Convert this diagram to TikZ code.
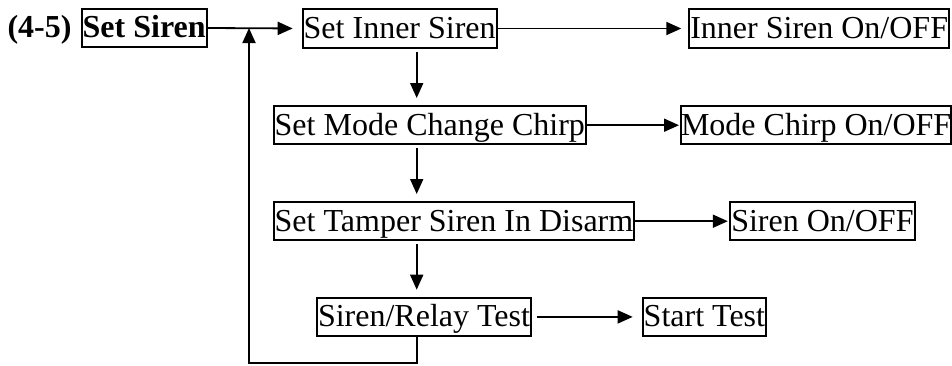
\documentclass[tikz,border=0pt]{standalone}
\usepackage{fontspec}
\setmainfont{Liberation Serif}
\usetikzlibrary{arrows.meta}
\begin{document}
\begin{tikzpicture}[x=1pt,y=-1pt,
  box/.style={draw, line width=2pt, inner xsep=1pt, inner ysep=0pt, text height=29pt, text depth=9.4pt, anchor=north west, font=\fontsize{32}{38}\selectfont},
  arr/.style={line width=1.8pt, -{Triangle[length=15pt,width=13pt]}},
  ln/.style={line width=1.8pt}]
\useasboundingbox (0,0) rectangle (952,365);
\node[box, font=\fontsize{32}{38}\selectfont\bfseries] (siren) at (80.7,7.8) {Set Siren};
\node[font=\fontsize{32}{38}\selectfont\bfseries, anchor=base east, inner sep=0pt] (hdr) at ([xshift=-9pt]siren.base west) {(4-5)};
\node[box] (inner) at (301.7,8.3) {Set Inner Siren};
\node[box] (inneron) at (688.3,8.3) {Inner Siren On/OFF};
\node[box] (mode) at (272.7,105) {Set Mode Change Chirp};
\node[box, inner xsep=0pt] (modeon) at (680,105) {Mode Chirp On/OFF};
\node[box] (tamper) at (272.7,201) {Set Tamper Siren In Disarm};
\node[box] (sirenon) at (729.3,201) {Siren On/OFF};
\node[box] (relay) at (316,296.7) {Siren/Relay Test};
\node[box] (start) at (641.7,296.7) {Start Test};
\coordinate (vx) at (416.7,0);
\coordinate (lx) at (249,0);
\coordinate (bot) at (0,362.7);
% horizontal arrows
\draw[arr, shorten >=9pt] (siren.east) -- (inner.west);
\draw[arr, shorten >=7pt] (inner.east) -- (inneron.west);
\draw[arr, shorten >=1pt] (mode.east) -- (modeon.west);
\draw[arr, shorten >=1.5pt] (tamper.east) -- (sirenon.west);
\draw[arr, shorten <=5pt, shorten >=9pt] (relay.east) -- (start.west);
% vertical arrows
\draw[arr, shorten <=3pt, shorten >=7pt] (vx |- inner.south) -- (vx |- mode.north);
\draw[arr, shorten <=3pt, shorten >=7pt] (vx |- mode.south) -- (vx |- tamper.north);
\draw[arr, shorten <=3pt, shorten >=7pt] (vx |- tamper.south) -- (vx |- relay.north);
% loop back
\draw[arr] (vx |- relay.south) -- (vx |- bot) -- (lx |- bot) -- (lx |- siren.east);
\end{tikzpicture}
\end{document}
